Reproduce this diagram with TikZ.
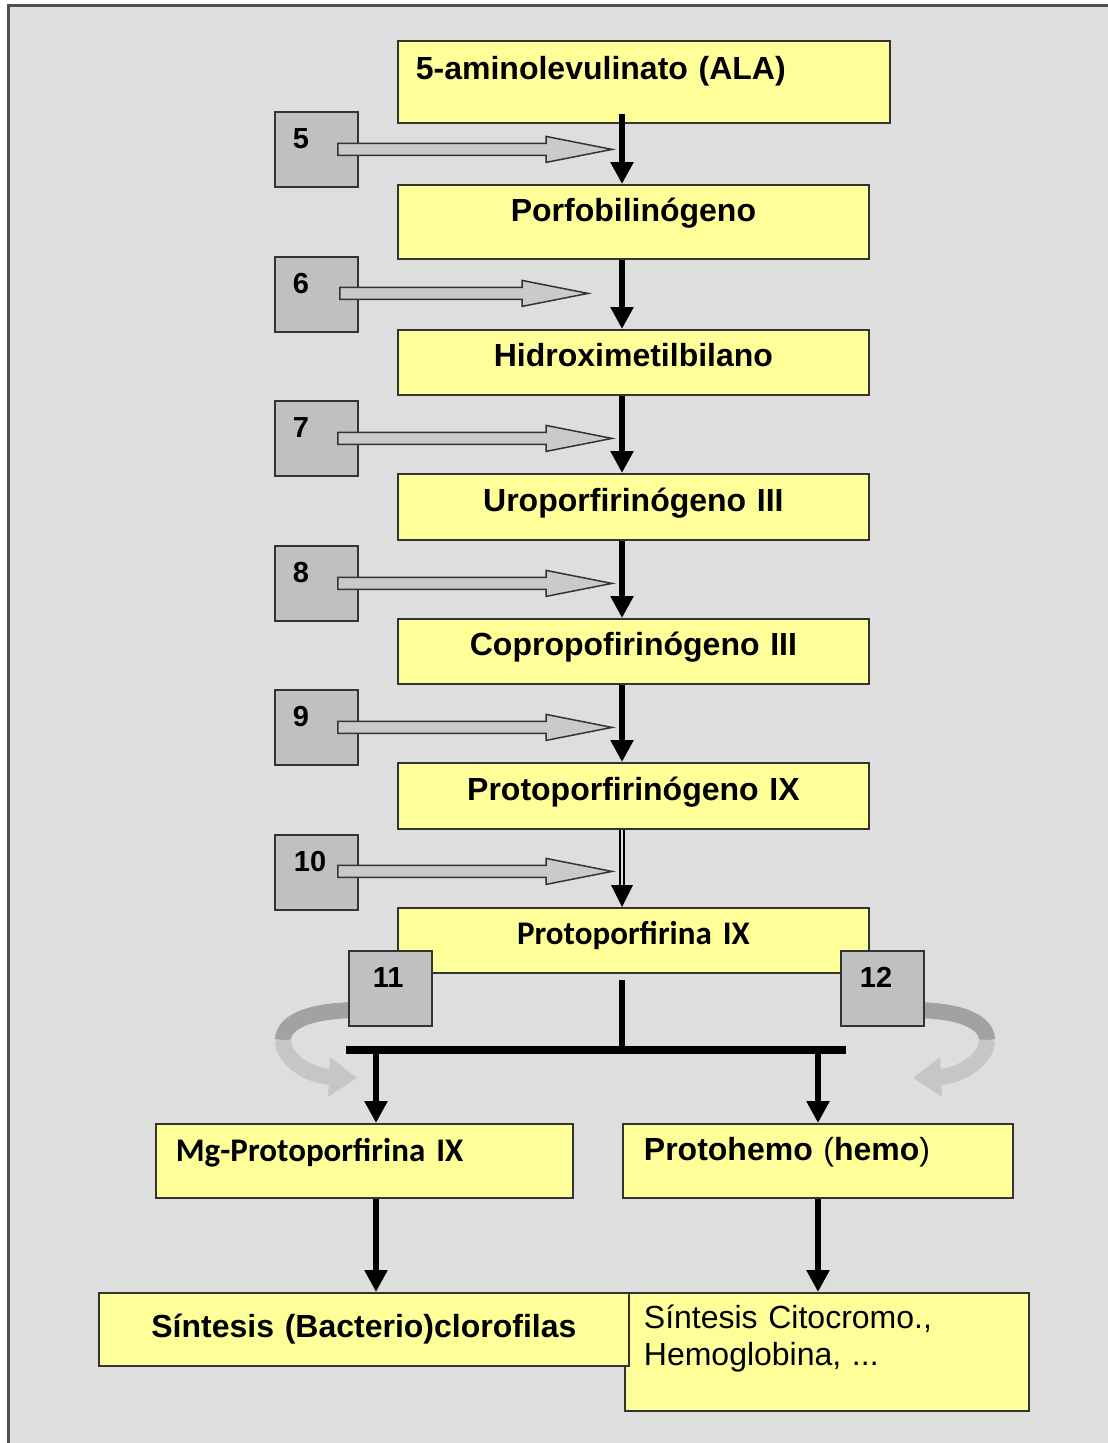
\documentclass[tikz,border=0pt]{standalone}
\usepackage{fontspec}
\setmainfont{Liberation Sans}
\newfontfamily\calfont{Carlito}
\usetikzlibrary{arrows.meta,calc,backgrounds}
\definecolor{bg}{HTML}{DEDEDE}
\definecolor{framec}{HTML}{505050}
\definecolor{yel}{HTML}{FFFF99}
\definecolor{gbox}{HTML}{C0C0C0}
\definecolor{garr}{HTML}{CACACA}
\definecolor{edge}{HTML}{333333}
\definecolor{curvA}{HTML}{A2A2A2}
\definecolor{curvB}{HTML}{C6C6C6}
\tikzset{
  ybox/.style={draw=edge, line width=1.8pt, fill=yel, anchor=north west, inner sep=0pt, align=center},
  nbox/.style={draw=edge, line width=1.8pt, fill=gbox, anchor=north west, inner sep=0pt,
    text width=83pt, text height=37pt, text depth=38pt, align=left,
    font=\fontsize{29}{34}\selectfont\bfseries},
  lbl/.style={font=\fontsize{32}{37}\selectfont\bfseries},
  clbl/.style={font=\fontsize{33}{38}\selectfont\calfont\bfseries},
  rlbl/.style={font=\fontsize{32}{37}\selectfont},
  varrow/.style={line width=5.5pt, -{Triangle[width=22pt,length=22pt]}},
  barrow/.style={draw=edge, line width=1.5pt, fill=garr, line join=miter},
  curvarrowA/.style={draw=curvA, line width=16pt},
  curvarrowB/.style={draw=curvB, line width=16pt, -{Triangle[width=38pt,length=28pt]}},
}
\newcommand\blockarr[2]{%
  \draw[barrow] let \p1=(#1), \p2=(#2) in
    (\x1,\y1+6pt) -- (\x2-66pt,\y1+6pt) -- (\x2-66pt,\y1+13pt) -- (\x2,\y1)
    -- (\x2-66pt,\y1-13pt) -- (\x2-66pt,\y1-6pt) -- (\x1,\y1-6pt) -- cycle;}
\begin{document}
\begin{tikzpicture}[x=1pt,y=-1pt]
\useasboundingbox (0,0) rectangle (1108,1443);
\clip (0,0) rectangle (1108,1443);

% main chain
\node[ybox, lbl, text width=492pt, text height=39pt, text depth=43pt, align=left] (p1) at (397,40) {\hspace*{18pt}5-aminolevulinato (ALA)};
\node[ybox, lbl, text width=471pt, text height=37pt, text depth=37pt] (p2) at (397,184) {Porfobilinógeno};
\node[ybox, lbl, text width=471pt, text height=37pt, text depth=28pt] (p3) at (397,329) {Hidroximetilbilano};
\node[ybox, lbl, text width=471pt, text height=38pt, text depth=28pt] (p4) at (397,473) {Uroporfirinógeno III};
\node[ybox, lbl, text width=471pt, text height=37pt, text depth=28pt] (p5) at (397,618) {Copropofirinógeno III};
\node[ybox, lbl, text width=471pt, text height=38pt, text depth=28pt] (p6) at (397,762) {Protoporfirinógeno IX};
\node[ybox, clbl, text width=471pt, text height=37pt, text depth=28pt] (p7) at (397,907) {Protoporfirina IX};

% enzyme boxes
\node[nbox] (n5) at (274,111) {\hspace*{18pt}5};
\node[nbox] (n6) at (274,256) {\hspace*{18pt}6};
\node[nbox] (n7) at (274,400) {\hspace*{18pt}7};
\node[nbox] (n8) at (274,545) {\hspace*{18pt}8};
\node[nbox] (n9) at (274,689) {\hspace*{18pt}9};
\node[nbox] (n10) at (274,834) {\hspace*{19pt}10};
\node[nbox] (n11) at (348,950) {\hspace*{24pt}11};
\node[nbox] (n12) at (840,950) {\hspace*{19pt}12};

% spine of the pathway
\coordinate (sp) at (622,0);

% block arrows from enzymes
\blockarr{$(n5.east)+(-21,0)$}{$(sp |- n5.east)+(-10,0)$}
\blockarr{$(n6.east)+(-19,-1)$}{$(sp |- n6.east)+(-34,-1)$}
\blockarr{$(n7.east)+(-21,0)$}{$(sp |- n7.east)+(-10,0)$}
\blockarr{$(n8.east)+(-21,0)$}{$(sp |- n8.east)+(-10,0)$}
\blockarr{$(n9.east)+(-21,0)$}{$(sp |- n9.east)+(-10,0)$}
\blockarr{$(n10.east)+(-21,-1)$}{$(sp |- n10.east)+(-10,-1)$}

% vertical arrows
\draw[varrow] ($(sp |- p1.south)+(0,-10)$) -- (sp |- p2.north);
\draw[varrow] (sp |- p2.south) -- (sp |- p3.north);
\draw[varrow] (sp |- p3.south) -- (sp |- p4.north);
\draw[varrow] (sp |- p4.south) -- (sp |- p5.north);
\draw[varrow] (sp |- p5.south) -- (sp |- p6.north);
\draw[line width=1.8pt, double=bg, double distance=2.6pt, shorten >=21pt] (sp |- p6.south) -- (sp |- p7.north);
\fill (sp |- p7.north) -- ++(-11,-22) -- ++(22,0) -- cycle;

% branch
\coordinate (bL) at (346,1050);
\coordinate (bR) at (846,1050);
\coordinate (lx) at (376,0);
\coordinate (rx) at (818,0);
\draw[line width=5.5pt] ($(sp |- p7.south)+(0,6)$) -- (sp |- bL);
\draw[line width=8pt] (bL) -- (bR);

\node[ybox, clbl, text width=417pt, text height=38pt, text depth=36pt, align=left] (m1) at (155,1123) {\hspace*{20pt}Mg-Protoporfirina IX};
\node[ybox, lbl, text width=390pt, text height=37pt, text depth=37pt, align=left] (h1) at (622,1123) {\hspace*{21pt}Protohemo {\mdseries(}hemo{\mdseries)}};
\node[ybox, rlbl, text width=404pt, text height=36pt, text depth=82pt, align=left] (s2) at (624,1292) {\hspace*{19pt}\begin{tabular}[t]{@{}l@{}}Síntesis Citocromo.,\\Hemoglobina, ...\end{tabular}};
\node[ybox, lbl, text width=530pt, text height=45pt, text depth=28pt] (s1) at (98,1292) {Síntesis (Bacterio)clorofilas};

\draw[varrow] (lx |- bL) -- (lx |- m1.north);
\draw[varrow] (rx |- bR) -- (rx |- h1.north);
\draw[varrow] (lx |- m1.south) -- (lx |- s1.north);
\draw[varrow] (rx |- h1.south) -- (rx |- s2.north);

% background: frame and curved arrows
\begin{scope}[on background layer]
  \fill[white] (0,0) rectangle (1108,1443);
  \draw[draw=framec, fill=bg, line width=3pt] (8,5) rectangle (1130,1470);
  \coordinate (c11) at ($(n11.west)+(24,22)$);
  \coordinate (c11m) at (283,1040);
  \coordinate (c11e) at (357,1078);
  \draw[curvarrowA] (c11) .. controls (310,1008) and (283,1022) .. (c11m);
  \draw[curvarrowB] (c11m) .. controls (283,1060) and (310,1076) .. (c11e);
  \coordinate (c12) at ($(n12.east)+(-24,22)$);
  \coordinate (c12m) at (987,1040);
  \coordinate (c12e) at (913,1078);
  \draw[curvarrowA] (c12) .. controls (960,1008) and (987,1022) .. (c12m);
  \draw[curvarrowB] (c12m) .. controls (987,1060) and (960,1076) .. (c12e);
\end{scope}
\end{tikzpicture}
\end{document}
